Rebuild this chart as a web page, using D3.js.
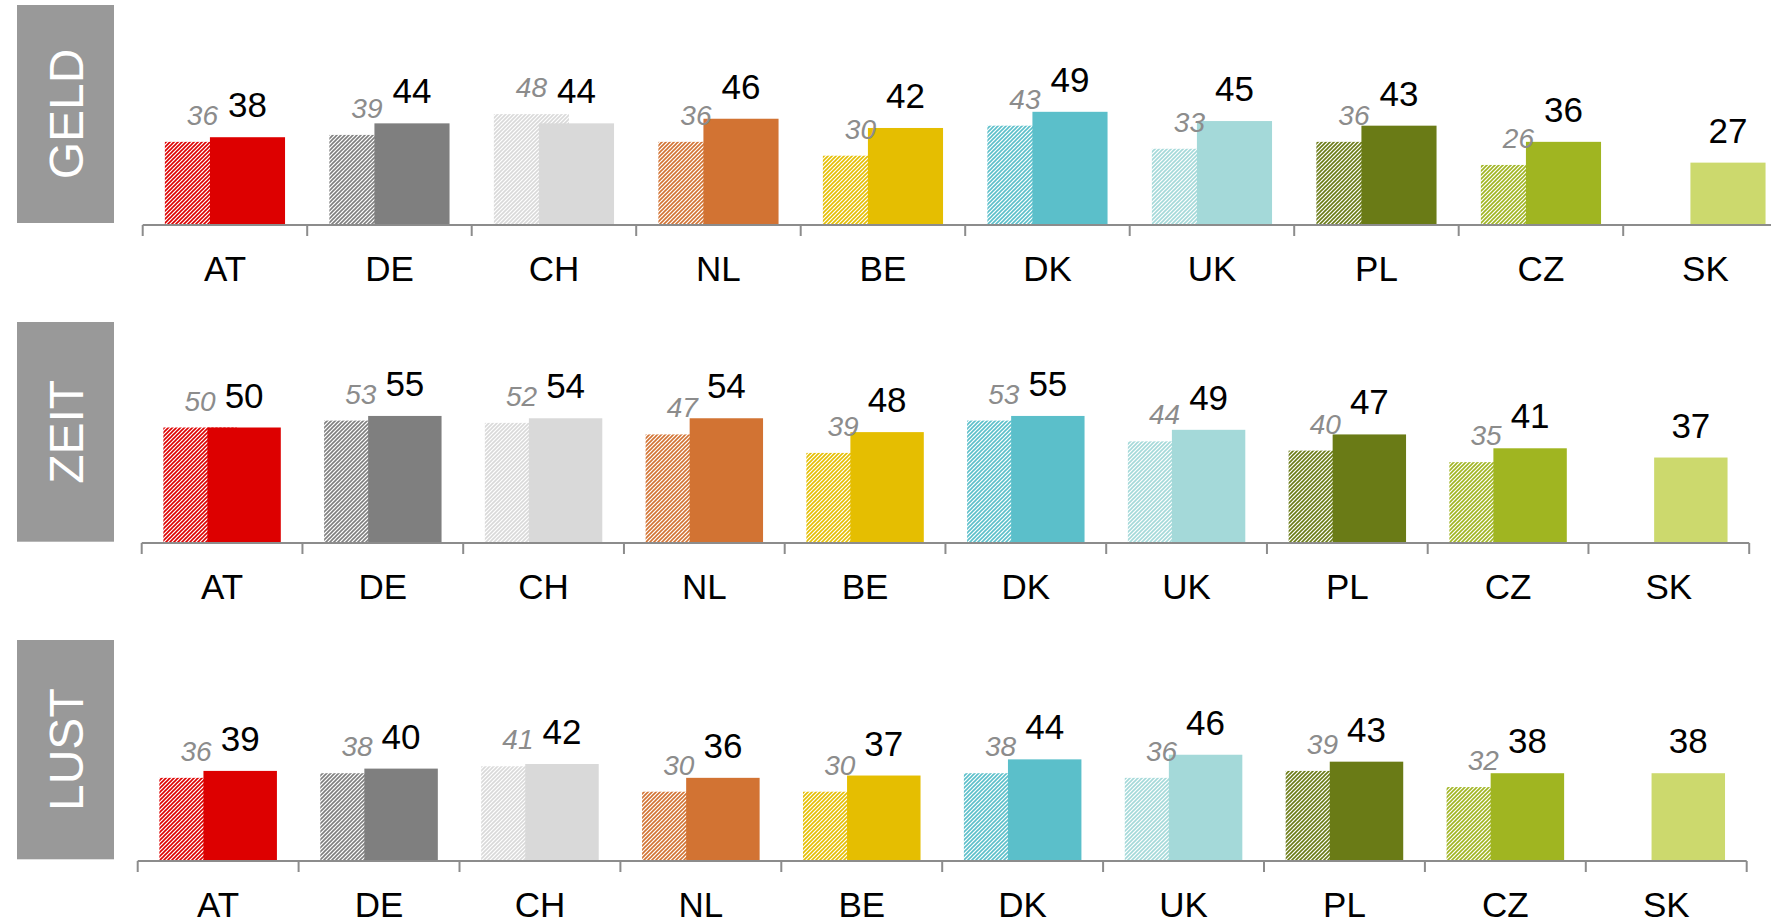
<!DOCTYPE html>
<html>
<head>
<meta charset="utf-8">
<script src="https://cdn.jsdelivr.net/npm/d3@7"></script>
<style>
  body { margin: 0; background: #fff; }
  svg { display: block; font-family: "Liberation Sans", Arial, sans-serif; }
</style>
</head>
<body>
<div id="chart"></div>
<script>
// countries and their colours
const categories = ['AT', 'DE', 'CH', 'NL', 'BE', 'DK', 'UK', 'PL', 'CZ', 'SK'];
const colours = ['#dd0000', '#7f7f7f', '#d9d9d9', '#d27333', '#e5be01',
                 '#5bbfca', '#a4d9d9', '#6a7b16', '#a0b521', '#ccd96d'];

const panelNames = ['GELD', 'ZEIT', 'LUST'];

// hatched = earlier wave, solid = current wave (SK has no earlier value)
const geldPrev = [36, 39, 48, 36, 30, 43, 33, 36, 26, null];
const geldNow  = [38, 44, 44, 46, 42, 49, 45, 43, 36, 27];
const zeitPrev = [50, 53, 52, 47, 39, 53, 44, 40, 35, null];
const zeitNow  = [50, 55, 54, 54, 48, 55, 49, 47, 41, 37];
const lustPrev = [36, 38, 41, 30, 30, 38, 36, 39, 32, null];
const lustNow  = [39, 40, 42, 36, 37, 44, 46, 43, 38, 38];

const prevSeries = [geldPrev, zeitPrev, lustPrev];
const nowSeries = [geldNow, zeitNow, lustNow];

// panel geometry
const layout = [
    { axisY: 225, x0: 142.7, bw: 164.5, boxTop: 5,   boxBottom: 223 },
    { axisY: 543, x0: 141.7, bw: 160.75, boxTop: 322, boxBottom: 541.7 },
    { axisY: 861, x0: 137.7, bw: 160.9, boxTop: 640, boxBottom: 859.3 }
];
const pxPerUnit = 2.31;
const width = 1771, height = 921;
const axisColour = '#8c8c8c';

const svg = d3.select('#chart').append('svg')
    .attr('width', width).attr('height', height);

svg.append('rect').attr('width', width).attr('height', height).attr('fill', '#fff');

// one upward diagonal hatch per colour
const defs = svg.append('defs');
colours.forEach((c, i) => {
    const p = defs.append('pattern')
        .attr('id', 'hatch' + i)
        .attr('patternUnits', 'userSpaceOnUse')
        .attr('width', 4).attr('height', 4);
    p.append('rect').attr('width', 4).attr('height', 4).attr('fill', '#fff');
    p.append('path')
        .attr('d', 'M-1,1 l2,-2 M0,4 l4,-4 M3,5 l2,-2')
        .attr('stroke', c)
        .attr('stroke-width', 1.6);
});

panelNames.forEach((name, i) => {
    const L = layout[i];
    const prev = prevSeries[i];
    const now = nowSeries[i];
    const g = svg.append('g').attr('class', 'panel');

    const x = d3.scaleBand().domain(categories)
        .range([L.x0, L.x0 + categories.length * L.bw])
        .padding(0);
    const y = d3.scaleLinear().domain([0, 60])
        .range([L.axisY, L.axisY - 60 * pxPerUnit]);

    const w = x.bandwidth() / 2.19;
    const mid = c => x(c) + x.bandwidth() / 2;

    // grey title box
    g.append('rect')
        .attr('x', 17).attr('y', L.boxTop)
        .attr('width', 97).attr('height', L.boxBottom - L.boxTop)
        .attr('fill', '#999999');
    g.append('text')
        .attr('transform', `translate(65.5, ${(L.boxTop + L.boxBottom) / 2}) rotate(-90)`)
        .attr('text-anchor', 'middle')
        .attr('dy', '0.36em')
        .attr('fill', '#fff')
        .style('font-size', '48px')
        .text(name);

    const rows = categories.map((c, j) => ({ c, j, prev: prev[j], now: now[j] }));

    // hatched bars behind
    g.selectAll('.prev').data(rows.filter(d => d.prev != null)).enter()
        .append('rect').attr('class', 'prev')
        .attr('x', d => mid(d.c) - 0.8 * w)
        .attr('width', w)
        .attr('y', d => y(d.prev))
        .attr('height', d => y(0) - y(d.prev))
        .attr('fill', d => `url(#hatch${d.j})`);

    // solid bars on top
    g.selectAll('.now').data(rows).enter()
        .append('rect').attr('class', 'now')
        .attr('x', d => mid(d.c) - 0.2 * w)
        .attr('width', w)
        .attr('y', d => y(d.now))
        .attr('height', d => y(0) - y(d.now))
        .attr('fill', d => colours[d.j]);

    // axis line and boundary ticks
    const xEnd = L.x0 + categories.length * L.bw;
    g.append('line')
        .attr('x1', L.x0).attr('x2', Math.min(width, xEnd))
        .attr('y1', L.axisY).attr('y2', L.axisY)
        .attr('stroke', axisColour).attr('stroke-width', 2);
    const bounds = categories.map(c => x(c)).concat([xEnd]);
    g.selectAll('.bound').data(bounds).enter()
        .append('line').attr('class', 'bound')
        .attr('x1', d => d).attr('x2', d => d)
        .attr('y1', L.axisY).attr('y2', L.axisY + 11)
        .attr('stroke', axisColour).attr('stroke-width', 2);

    // category labels via d3 axis
    const ax = g.append('g')
        .attr('transform', `translate(0, ${L.axisY})`)
        .call(d3.axisBottom(x).tickSize(0).tickPadding(31));
    ax.select('.domain').remove();
    ax.attr('font-family', null).attr('font-size', null);
    ax.selectAll('text').style('font-size', '35px').attr('fill', '#000');

    // value labels
    g.selectAll('.prevLab').data(rows.filter(d => d.prev != null)).enter()
        .append('text').attr('class', 'prevLab')
        .attr('x', d => mid(d.c) - 0.3 * w)
        .attr('y', d => y(d.prev) - 17)
        .attr('text-anchor', 'middle')
        .attr('fill', '#8c8c8c')
        .style('font-style', 'italic')
        .style('font-size', '28px')
        .text(d => d.prev);

    g.selectAll('.nowLab').data(rows).enter()
        .append('text').attr('class', 'nowLab')
        .attr('x', d => mid(d.c) + 0.3 * w)
        .attr('y', d => y(d.now) - 20)
        .attr('text-anchor', 'middle')
        .attr('fill', '#000')
        .style('font-size', '35px')
        .text(d => d.now);
});
</script>
</body>
</html>
